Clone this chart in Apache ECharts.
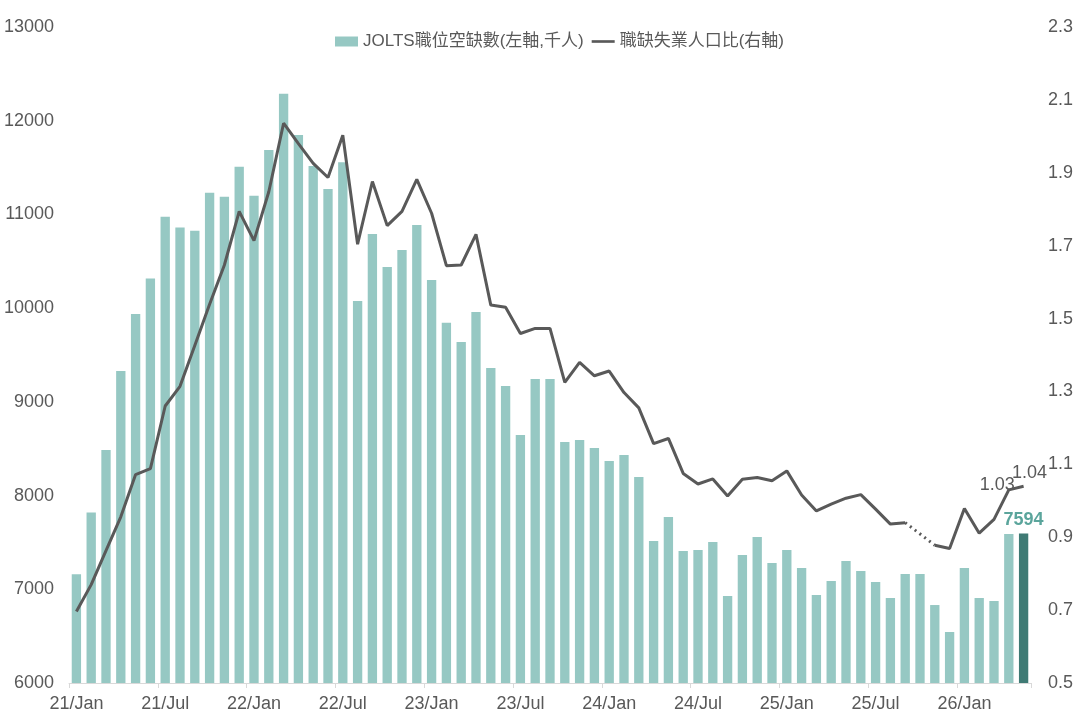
<!DOCTYPE html>
<html>
<head>
<meta charset="utf-8">
<script src="https://cdn.jsdelivr.net/npm/echarts@6/dist/echarts.min.js"></script>
<style>
html,body{margin:0;padding:0;background:#fff;}
#chart{width:1077px;height:718px;}
</style>
</head>
<body>
<div id="chart"></div>
<script>
var categories = ["21/Jan","21/Feb","21/Mar","21/Apr","21/May","21/Jun","21/Jul","21/Aug","21/Sep","21/Oct","21/Nov","21/Dec",
"22/Jan","22/Feb","22/Mar","22/Apr","22/May","22/Jun","22/Jul","22/Aug","22/Sep","22/Oct","22/Nov","22/Dec",
"23/Jan","23/Feb","23/Mar","23/Apr","23/May","23/Jun","23/Jul","23/Aug","23/Sep","23/Oct","23/Nov","23/Dec",
"24/Jan","24/Feb","24/Mar","24/Apr","24/May","24/Jun","24/Jul","24/Aug","24/Sep","24/Oct","24/Nov","24/Dec",
"25/Jan","25/Feb","25/Mar","25/Apr","25/May","25/Jun","25/Jul","25/Aug","25/Sep","25/Oct","25/Nov","25/Dec",
"26/Jan","26/Feb","26/Mar","26/Apr","26/May"];

var jobOpenings = [7160,7820,8486,9328,9938,10315,10975,10860,10826,11230,
11188,11508,11200,11687,12289,11848,11516,11272,11558,10075,
10792,10438,10620,10887,10300,9843,9638,9958,9362,9168,
8646,9244,9244,8571,8593,8507,8369,8433,8198,7515,
7771,7408,7419,7504,6928,7366,7558,7280,7419,7227,
6939,7088,7302,7195,7078,6907,7163,7163,6832,6544,
7227,6907,6875,7590,7594];

var vuRatio = [0.696,0.770,0.863,0.956,1.072,1.088,1.26,1.314,1.426,1.539,
1.647,1.794,1.714,1.848,2.036,1.98,1.926,1.887,2.003,1.704,
1.876,1.755,1.794,1.882,1.789,1.645,1.647,1.731,1.537,1.531,
1.459,1.473,1.473,1.325,1.38,1.343,1.356,1.297,1.255,1.157,
1.171,1.075,1.046,1.06,1.013,1.059,1.064,1.055,1.082,1.016,
0.972,0.991,1.007,1.017,0.977,0.936,0.940,null,0.878,0.869,
0.979,0.911,0.949,1.03,1.04];

var leftTicks = [6000,13000,1000];
var rightTicks = [0.5,2.3,0.2];
var seriesNames = ["JOLTS職位空缺數(左軸,千人)","職缺失業人口比(右軸)"];

var FONT = '"Liberation Sans", Arial, "Noto Sans CJK TC", sans-serif';
var TXT = '#595959';
var last = jobOpenings.length - 1;

var barData = jobOpenings.map(function(v, i){
  if (i === last) {
    return {value: v, itemStyle:{color:'#3F7A74'},
      label:{show:true, position:'top', distance:5, color:'#5BA59C', fontWeight:'bold', fontSize:18, fontFamily:FONT}};
  }
  return v;
});

// dotted bridge across the missing month
var gapData = vuRatio.map(function(v, i){
  var prevMissing = (i + 1 < vuRatio.length && vuRatio[i+1] === null);
  var nextMissing = (i - 1 >= 0 && vuRatio[i-1] === null);
  return (prevMissing || nextMissing) ? v : null;
});

var lastN = vuRatio.length - 1;
var markData = [
  {coord:[lastN - 1, vuRatio[lastN - 1]], value:vuRatio[lastN - 1],
   label:{position:'left', offset:[11,-5]}},
  {coord:[lastN, vuRatio[lastN]], value:vuRatio[lastN],
   label:{position:'top', offset:[6,1]}}
];

var chart = echarts.init(document.getElementById('chart'), null, {renderer:'canvas'});
chart.setOption({
  backgroundColor:'#ffffff',
  animation:false,
  textStyle:{fontFamily:FONT},
  legend:{
    data:[{name:seriesNames[0], icon:'rect'},
          {name:seriesNames[1], icon:'path://M0,0 L26,0 L26,3 L0,3 Z'}],
    left:330, top:28,
    itemWidth:23, itemHeight:10, itemGap:8,
    symbolKeepAspect:true,
    textStyle:{color:TXT, fontSize:17, fontFamily:FONT}
  },
  grid:{left:69, right:46, top:27, bottom:35, containLabel:false},
  xAxis:{
    type:'category',
    data:categories,
    boundaryGap:true,
    axisLine:{show:true, lineStyle:{color:'#D9D9D9', width:1}},
    axisTick:{show:true, interval:5, alignWithLabel:false, length:5, lineStyle:{color:'#D9D9D9'}},
    axisLabel:{interval:5, color:TXT, fontSize:18, margin:12, fontFamily:FONT},
    splitLine:{show:false}
  },
  yAxis:[{
    type:'value', min:leftTicks[0], max:leftTicks[1], interval:leftTicks[2],
    axisLine:{show:false}, axisTick:{show:false}, splitLine:{show:false},
    axisLabel:{color:TXT, fontSize:18, margin:15, fontFamily:FONT,
      formatter:function(v){return String(v);}}
  },{
    type:'value', min:rightTicks[0], max:rightTicks[1], interval:rightTicks[2],
    axisLine:{show:false}, axisTick:{show:false}, splitLine:{show:false},
    axisLabel:{color:TXT, fontSize:18, margin:17, fontFamily:FONT,
      formatter:function(v){return v.toFixed(1);}}
  }],
  series:[{
    name:seriesNames[0], type:'bar', yAxisIndex:0,
    data:barData, barCategoryGap:'37%',
    itemStyle:{color:'#96C8C3'}
  },{
    name:seriesNames[1], type:'line', yAxisIndex:1,
    data:vuRatio, symbol:'none', connectNulls:false,
    lineStyle:{color:'#595959', width:3},
    itemStyle:{color:'#595959'},
    z:3,
    markPoint:{
      symbol:'circle', symbolSize:0,
      label:{show:true, color:TXT, fontSize:18, fontFamily:FONT,
        formatter:function(p){return Number(p.value).toFixed(2);}},
      data:markData
    }
  },{
    name:'gap', type:'line', yAxisIndex:1,
    data:gapData, symbol:'none', connectNulls:true,
    lineStyle:{color:'#595959', width:3, type:[2,4]},
    silent:true, z:3
  }]
});
</script>
</body>
</html>
